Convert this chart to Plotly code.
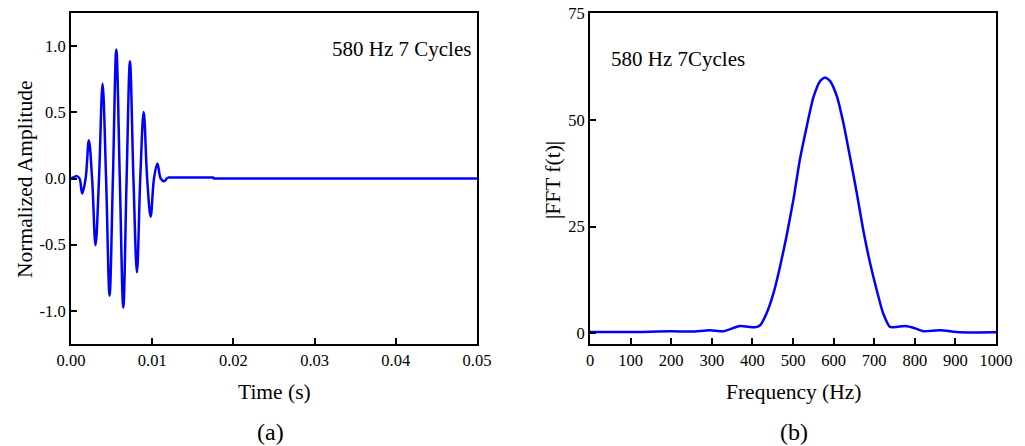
import plotly.graph_objects as go

# ---- Data: (a) time-domain tone burst (peaks / crossings)
t_burst = [0.0, 0.00035, 0.00072, 0.00105, 0.00138, 0.0018, 0.0022, 0.0026, 0.00302, 0.00345,
           0.00389, 0.00432, 0.00475, 0.00516, 0.00558, 0.00601, 0.00644, 0.00685, 0.00726,
           0.00769, 0.00812, 0.00853, 0.00895, 0.00938, 0.00981, 0.01022, 0.01064, 0.01105,
           0.01146, 0.0119]
amp_burst = [0.0, 0.01, 0.018, 0.0, -0.113, 0.0, 0.289, 0.0, -0.503, 0.0,
             0.716, 0.0, -0.885, 0.0, 0.975, 0.0, -0.975, 0.0, 0.885,
             0.0, -0.709, 0.0, 0.503, 0.0, -0.289, 0.0, 0.113, 0.0,
             -0.02, 0.008]
# flat tail after the burst
t_tail = [0.0119, 0.0175, 0.0176, 0.05]
amp_tail = [0.008, 0.008, 0.0, 0.0]

# ---- Data: (b) FFT magnitude
freq_hz = [0, 100, 200, 250, 295, 330, 369, 406, 419, 435, 452, 468, 484, 501, 517, 534,
           550, 567, 579, 591, 608, 624, 640, 657, 673, 690, 706, 722, 739, 755, 776, 800,
           821, 862, 911, 1000]
fft_mag = [0.3, 0.3, 0.5, 0.4, 0.7, 0.5, 1.7, 1.4, 1.9, 4.7, 9.4, 15.6, 22.7, 31.3, 40.7, 48.5,
           55.2, 59.1, 59.9, 59.1, 55.5, 49.3, 41.5, 32.9, 24.2, 16.4, 10.2, 4.7, 1.5, 1.5, 1.7, 1.2,
           0.5, 0.7, 0.25, 0.25]

x_ticks_a = [0.00, 0.01, 0.02, 0.03, 0.04, 0.05]
x_ticklabels_a = ["0.00", "0.01", "0.02", "0.03", "0.04", "0.05"]
y_ticks_a = [-1.0, -0.5, 0.0, 0.5, 1.0]
y_ticklabels_a = ["-1.0", "-0.5", "0.0", "0.5", "1.0"]
x_ticks_b = list(range(0, 1001, 100))
y_ticks_b = [0, 25, 50, 75]

BLUE = "#0000FF"
FONT = "Liberation Serif"
W, H = 1025, 446

fig = go.Figure()
fig.add_trace(go.Scatter(x=t_burst, y=amp_burst, mode="lines", xaxis="x", yaxis="y",
                         line=dict(color=BLUE, width=2.5, shape="spline", smoothing=1.0),
                         showlegend=False))
fig.add_trace(go.Scatter(x=t_tail, y=amp_tail, mode="lines", xaxis="x", yaxis="y",
                         line=dict(color=BLUE, width=2.5, shape="linear"),
                         showlegend=False))
fig.add_trace(go.Scatter(x=freq_hz, y=fft_mag, mode="lines", xaxis="x2", yaxis="y2",
                         line=dict(color=BLUE, width=2.5, shape="spline", smoothing=0.6),
                         showlegend=False))

def px(x):
    return x / W

def py(y):
    return 1 - y / H

axis_common = dict(showline=True, linecolor="black", linewidth=2, mirror=True,
                   ticks="inside", ticklen=6, tickwidth=2, tickcolor="black",
                   showgrid=False, zeroline=False, automargin=False,
                   tickfont=dict(family=FONT, size=16.5, color="black"))

fig.update_layout(
    width=W, height=H, margin=dict(l=0, r=0, t=0, b=0, pad=0),
    paper_bgcolor="white", plot_bgcolor="white",
    xaxis=dict(domain=[px(71), px(477)], range=[0, 0.05], tickvals=x_ticks_a,
               ticktext=x_ticklabels_a, anchor="y", **axis_common),
    yaxis=dict(domain=[py(344), py(13)], range=[-1.25, 1.25], tickvals=y_ticks_a,
               ticktext=y_ticklabels_a, anchor="x", **axis_common),
    xaxis2=dict(domain=[px(590), px(996)], range=[0, 1000], tickvals=x_ticks_b,
                anchor="y2", **axis_common),
    yaxis2=dict(domain=[py(344), py(13)], range=[-2.5, 75], tickvals=y_ticks_b,
                anchor="x2", **axis_common),
)

def ann(text, x, y, size, xanchor="center", yanchor="middle", angle=0):
    fig.add_annotation(text=text, x=px(x), y=py(y), xref="paper", yref="paper",
                       showarrow=False, xanchor=xanchor, yanchor=yanchor, textangle=angle,
                       font=dict(family=FONT, size=size, color="black"))

ann("Normalized Amplitude", 25, 179, 21.5, angle=-90)
ann("Time (s)", 274.5, 392, 21.5)
ann("(a)", 270, 432, 24)
ann("580 Hz 7 Cycles", 473, 49, 21, xanchor="right")
ann("|FFT f(t)|", 553, 180, 21.5, angle=-90)
ann("Frequency (Hz)", 794, 392, 21.5)
ann("(b)", 793.5, 432, 24)
ann("580 Hz 7Cycles", 609, 59, 21, xanchor="left")

fig.write_html("out.html")
